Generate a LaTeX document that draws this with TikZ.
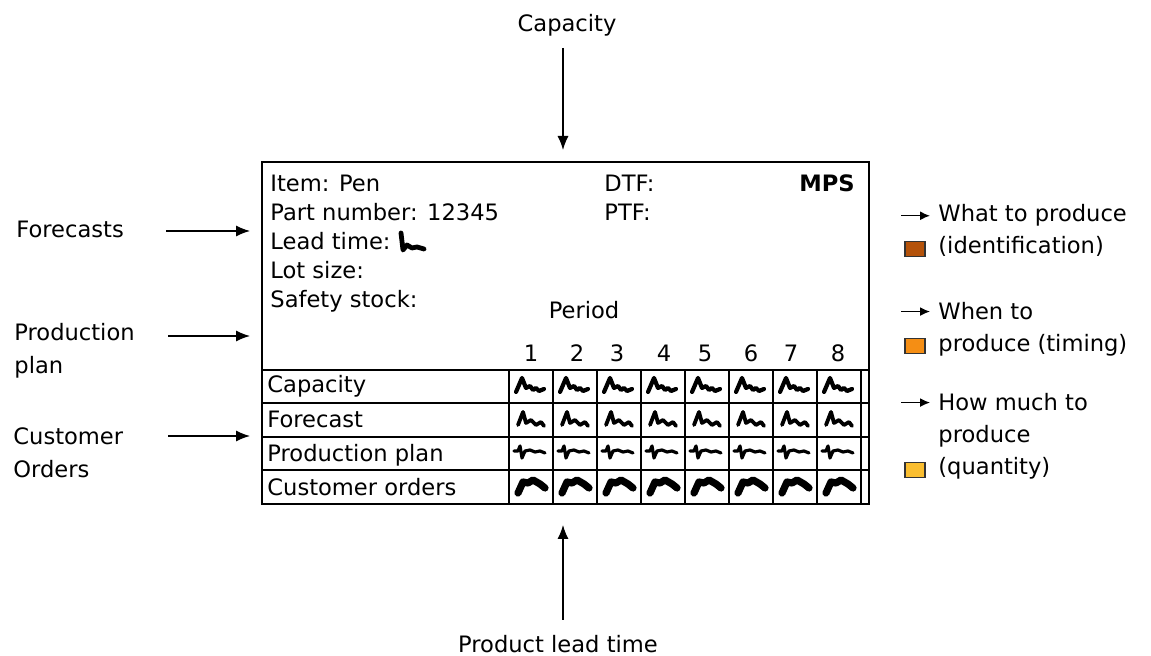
\documentclass[tikz,border=0pt]{standalone}
\usepackage{fontspec}
\setmainfont{DejaVu Sans}
\usepackage{tikz}
\usetikzlibrary{arrows.meta, positioning, calc}
\definecolor{whatcolor}{RGB}{180,82,10}
\definecolor{whencolor}{RGB}{245,142,20}
\definecolor{howcolor}{RGB}{250,190,48}

\begin{document}
\begin{tikzpicture}[
    x=0.5pt, y=-0.5pt,
    every node/.style={font=\fontsize{11.3}{14.5}\selectfont, inner sep=0pt},
    inarrow/.style={-{Latex[length=7pt,width=5.5pt]}, line width=0.6pt},
    legarrow/.style={-{Latex[length=5pt,width=4.5pt]}, line width=0.7pt},
    sidelbl/.style={anchor=north west, align=left, font=\fontsize{11.3}{16.7}\selectfont},
    swatch/.style={draw=black!80, line width=0.6pt, minimum width=10pt, minimum height=7.5pt},
    scrib/.style={line width=2.1pt, line join=round, line cap=round},
    capscrib/.pic={\draw[scrib] (-15,6) -- (-9,-8) -- (-5,2) -- (-1,0) -- (2,4) -- (5,2) -- (8,5) -- (13,3);},
    fcscrib/.pic={\draw[scrib, line width=1.9pt] (-13,5) -- (-8,-8) -- (-5,3) -- (0,0) -- (5,5) -- (10,2) -- (13,6);},
    ppscrib/.pic={\draw[scrib, line width=1.6pt] (-17,-3) -- (-13,-3) -- (-11,-8) -- (-9,4) -- (-6,-3) -- (-1,-4) -- (4,-2) -- (9,-3) -- (14,-1);},
    coscrib/.pic={\draw[scrib, line width=3.6pt] (-13,6) -- (-8,-5) -- (-3,-4) -- (2,-7) -- (9,-3) -- (14,1);}
]
\useasboundingbox (0,0) rectangle (1151,656);

% --- MPS record ---
\draw[line width=0.6pt] (262,162) rectangle (869,504);
\foreach \y in {370,403,437,470}
    \draw[line width=0.6pt] (262,\y) -- (869,\y);
\foreach \x in {509,553,...,861}
    \draw[line width=0.6pt] (\x,370) -- (\x,504);

\foreach \t [count=\i] in {Item: Pen, Part number: 12345, Lead time:, Lot size:, Safety stock:}
    \node[anchor=base west] (info\i) at (270,{192+29*(\i-1)}) {\t};
\draw[scrib, line width=2.4pt] (401,233) -- (403,250) -- (407,245) -- (412,248) -- (417,247) -- (424,249);

\node[anchor=base west] (dtf) at (604,192) {DTF:};
\node[anchor=base west] (ptf) at (604,221) {PTF:};
\node[anchor=base east, font=\fontsize{11.3}{14.5}\selectfont\bfseries] (mpsLbl) at (855,192) {MPS};

\node[anchor=base] (period) at (584,319) {Period};
\foreach \n/\px in {1/531,2/577,3/617,4/664,5/705,6/751,7/791,8/838}
    \node[anchor=base] (per\n) at (\px,362) {\n};

\foreach \t/\y [count=\i] in {Capacity/393, Forecast/428, Production plan/462, Customer orders/496}
    \node[anchor=base west] (row\i) at (267,\y) {\t};

\foreach \k in {0,...,7} {
    \pic at ({531+44*\k},386) {capscrib};
    \pic at ({531+44*\k},420) {fcscrib};
    \pic at ({531+44*\k},454) {ppscrib};
    \pic at ({531+44*\k},487) {coscrib};
}

% --- Inputs ---
\node[anchor=base] (capLbl) at (567,32) {Capacity};
\coordinate (capFrom) at (563,48);
\coordinate (capTo) at (563,150);
\draw[inarrow] (capFrom) -- (capTo);

\node[sidelbl] (fcLbl) at (16,221) {Forecasts};
\coordinate (fcFrom) at (166,231);
\coordinate (fcTo) at (250,231);
\draw[inarrow] (fcFrom) -- (fcTo);

\node[sidelbl] (ppLbl) at (14,323) {Production\\plan};
\coordinate (ppFrom) at (168,336);
\coordinate (ppTo) at (250,336);
\draw[inarrow] (ppFrom) -- (ppTo);

\node[sidelbl] (coLbl) at (13,427) {Customer\\Orders};
\coordinate (coFrom) at (168,436);
\coordinate (coTo) at (250,436);
\draw[inarrow] (coFrom) -- (coTo);

\node[anchor=base] (pltLbl) at (558,653) {Product lead time};
\coordinate (pltFrom) at (563,620);
\coordinate (pltTo) at (563,525);
\draw[inarrow] (pltFrom) -- (pltTo);

% --- Outputs ---
\node[anchor=base west] (what1) at (938,222) {What to produce};
\node[anchor=base west] (what2) at (938,254) {(identification)};
\draw[legarrow] ([xshift=-18.5pt]what1.west) -- ([xshift=-4pt]what1.west);
\node[swatch, fill=whatcolor] (whatBox) at (915,249) {};

\node[anchor=base west] (when1) at (938,320) {When to};
\node[anchor=base west] (when2) at (938,352) {produce (timing)};
\draw[legarrow] ([xshift=-18.5pt]when1.west) -- ([xshift=-4pt]when1.west);
\node[swatch, fill=whencolor] (whenBox) at (915,346) {};

\node[anchor=base west] (how1) at (938,411) {How much to};
\node[anchor=base west] (how2) at (938,443) {produce};
\node[anchor=base west] (how3) at (938,475) {(quantity)};
\draw[legarrow] ([xshift=-18.5pt]how1.west) -- ([xshift=-4pt]how1.west);
\node[swatch, fill=howcolor] (howBox) at (915,470) {};
\end{tikzpicture}
\end{document}
